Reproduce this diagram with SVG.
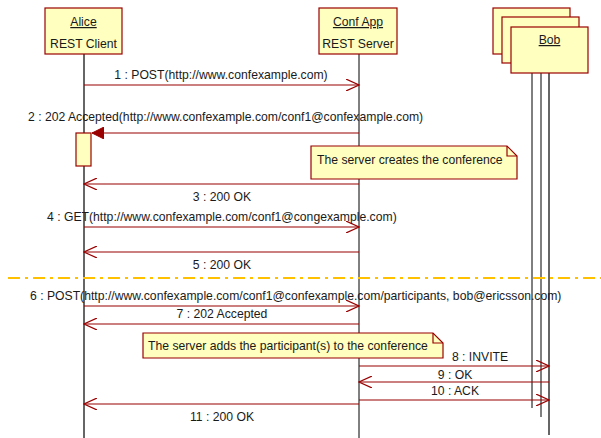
<svg xmlns="http://www.w3.org/2000/svg" width="601" height="438" viewBox="0 0 601 438">
<defs>
<style>
.box{fill:#FFFFC0;stroke:#990000;stroke-width:1.2}
.t{font-family:"Liberation Sans",Arial,sans-serif;font-size:12.2px;fill:#1a1a1a}
.m{text-anchor:middle}
.msg{stroke:#990000;stroke-width:1.2;fill:none}
</style>
<marker id="open" markerWidth="14" markerHeight="12" refX="13" refY="6" orient="auto" markerUnits="userSpaceOnUse">
<path d="M0,0 L13,6 L0,12" fill="none" stroke="#990000" stroke-width="1.2"/>
</marker>
<marker id="filled" markerWidth="14" markerHeight="12" refX="12" refY="6" orient="auto" markerUnits="userSpaceOnUse">
<path d="M0,0 L12,6 L0,12 Z" fill="#990000" stroke="#990000"/>
</marker>
</defs>
<rect width="601" height="438" fill="#fff"/>
<g id="alice">
<line x1="84" y1="54" x2="84" y2="438" stroke="#666" stroke-width="2"/>
<rect class="box" x="45" y="8" width="77" height="46"/>
<text class="t m" x="83.5" y="26" text-decoration="underline">Alice</text>
<text class="t m" x="83.5" y="48">REST Client</text>
<rect class="box" x="76" y="133" width="15" height="33"/>
</g>
<g id="confapp">
<line x1="359" y1="54" x2="359" y2="438" stroke="#000" stroke-width="1"/>
<rect class="box" x="319" y="8" width="78" height="46"/>
<text class="t m" x="358" y="26" text-decoration="underline">Conf App</text>
<text class="t m" x="358" y="48">REST Server</text>
</g>
<g id="bob">
<line x1="532" y1="54" x2="532" y2="408" stroke="#000" stroke-width="1"/>
<line x1="541" y1="63" x2="541" y2="417" stroke="#000" stroke-width="1"/>
<line x1="549" y1="73" x2="549" y2="435" stroke="#666" stroke-width="2"/>
<rect class="box" x="493" y="8" width="77" height="46"/>
<rect class="box" x="502" y="17" width="77" height="46"/>
<rect class="box" x="511" y="27" width="77" height="46"/>
<text class="t m" x="549.5" y="44" text-decoration="underline">Bob</text>
</g>
<g id="note1">
<path class="box" d="M311,146 H507 L517,156 V179 H311 Z"/>
<path d="M507,146 V156 H517" fill="none" stroke="#990000" stroke-width="1.2"/>
<text class="t" x="317" y="164">The server creates the conference</text>
</g>
<g id="note2">
<path class="box" d="M143,333 H433 L443,343 V358 H143 Z"/>
<path d="M433,333 V343 H443" fill="none" stroke="#990000" stroke-width="1.2"/>
<text class="t" x="148" y="350">The server adds the participant(s) to the conference</text>
</g>
<g id="separator">
<line x1="8" y1="278" x2="601" y2="278" stroke="#FFC000" stroke-width="2" stroke-dasharray="12,5,3,5"/>
</g>
<g id="connectors">
<line class="msg" x1="84" y1="85" x2="359" y2="85" marker-end="url(#open)"/>
<line class="msg" x1="359" y1="133" x2="92" y2="133" marker-end="url(#filled)"/>
<line class="msg" x1="359" y1="184" x2="84" y2="184" marker-end="url(#open)"/>
<line class="msg" x1="84" y1="227" x2="359" y2="227" marker-end="url(#open)"/>
<line class="msg" x1="359" y1="252" x2="84" y2="252" marker-end="url(#open)"/>
<line class="msg" x1="84" y1="306" x2="359" y2="306" marker-end="url(#open)"/>
<line class="msg" x1="359" y1="324" x2="84" y2="324" marker-end="url(#open)"/>
<line class="msg" x1="359" y1="366" x2="549" y2="366" marker-end="url(#open)"/>
<line class="msg" x1="549" y1="382" x2="359" y2="382" marker-end="url(#open)"/>
<line class="msg" x1="359" y1="400" x2="549" y2="400" marker-end="url(#open)"/>
<line class="msg" x1="359" y1="404" x2="84" y2="404" marker-end="url(#open)"/>
</g>
<g id="labels">
<text class="t m" x="221" y="79">1 : POST(http://www.confexample.com)</text>
<text class="t" x="28" y="121">2 : 202 Accepted(http://www.confexample.com/conf1@confexample.com)</text>
<text class="t m" x="222" y="201">3 : 200 OK</text>
<text class="t" x="47" y="221">4 : GET(http://www.confexample.com/conf1@congexample.com)</text>
<text class="t m" x="222" y="269">5 : 200 OK</text>
<text class="t" x="30" y="300">6 : POST(http://www.confexample.com/conf1@confexample.com/participants, bob@ericsson.com)</text>
<text class="t m" x="222" y="318">7 : 202 Accepted</text>
<text class="t m" x="480" y="361">8 : INVITE</text>
<text class="t m" x="455" y="379">9 : OK</text>
<text class="t m" x="455" y="395">10 : ACK</text>
<text class="t m" x="222" y="421">11 : 200 OK</text>
</g>
</svg>
